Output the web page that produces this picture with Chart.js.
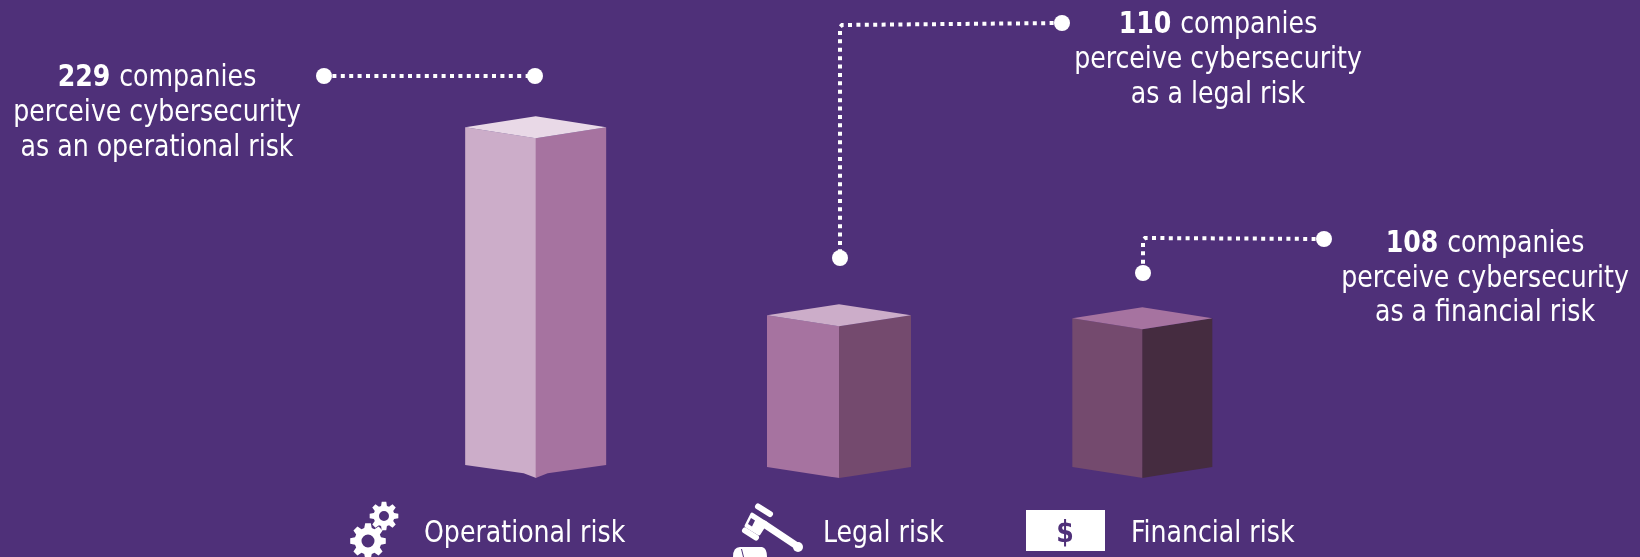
<!DOCTYPE html>
<html>
<head>
  <title>Cybersecurity risk perception</title>
  <script src="https://cdn.jsdelivr.net/npm/chart.js"></script>
  <style>
    html, body { margin: 0; padding: 0; background: #4f3079; overflow: hidden; }
    canvas { display: block; }
  </style>
</head>
<body>
  <canvas id="riskChart" width="1640" height="557"></canvas>

  <script>
    // Chart data
    const categories = ['Operational risk', 'Legal risk', 'Financial risk'];
    const companies = [229, 110, 108];
    const calloutLines = [
      ['companies', 'perceive cybersecurity', 'as an operational risk'],
      ['companies', 'perceive cybersecurity', 'as a legal risk'],
      ['companies', 'perceive cybersecurity', 'as a financial risk']
    ];

    // Face colours of each bar
    const leftColors = ['#ccadc9', '#a673a0', '#744a6e'];
    const rightColors = ['#a673a0', '#744a6e', '#452c40'];
    const topColors = ['#e9d9e7', '#ccadc9', '#a673a0'];

    const WHITE = '#ffffff';
    const PURPLE = '#4f3079';
    const FONT = '"DejaVu Sans Condensed", "DejaVu Sans", sans-serif';
    const TEXT_SQUEEZE = 0.905; // reference font is narrower than DejaVu
    const TOP_DROP = 11;        // apex of the top face to its side corners
    const halfWidths = [70.5, 72, 70];
    const bottomDrops = [13, 11, 11];
    const bottomNotch = [2.5, 0, 0];

    // Callout layout: text centre, text baselines, and the leader path
    const callouts = [
      { cx: 157, ys: [86, 121, 156], path: [[324, 76], [535, 76]] },
      { cx: 1218, ys: [33, 68, 103], path: [[1062, 23], [842, 25], [840, 27], [840, 258]] },
      { cx: 1485, ys: [252, 287, 321], path: [[1324, 239], [1145, 238], [1143, 240], [1143, 273]] }
    ];
    const labelX = [424, 823, 1131];
    const labelY = 542;

    function poly(ctx, pts, color) {
      ctx.fillStyle = color;
      ctx.beginPath();
      pts.forEach((p, i) => i ? ctx.lineTo(p[0], p[1]) : ctx.moveTo(p[0], p[1]));
      ctx.closePath();
      ctx.fill();
    }

    function drawBar(ctx, bar, i) {
      const half = halfWidths[i];
      const l = bar.x - half, r = bar.x + half, x = bar.x;
      const top = bar.y, base = bar.base;
      const corner = base - bottomDrops[i];
      // lower edge dips slightly before the apex on the tall bar
      const nearY = base - bottomDrops[i] * 12 / half - bottomNotch[i];
      poly(ctx, [[l, top + TOP_DROP], [x + 0.5, top + TOP_DROP * 2], [x + 0.5, base],
                 [x - 12, nearY], [l, corner]], leftColors[i]);
      poly(ctx, [[x, top + TOP_DROP * 2], [r, top + TOP_DROP], [r, corner],
                 [x + 12, nearY], [x, base]], rightColors[i]);
      poly(ctx, [[l, top + TOP_DROP], [x, top], [r, top + TOP_DROP], [x, top + TOP_DROP * 2]], topColors[i]);
    }

    function drawLeader(ctx, path) {
      ctx.save();
      ctx.strokeStyle = WHITE;
      ctx.lineWidth = 4;
      ctx.setLineDash([4, 4.4]);
      ctx.beginPath();
      path.forEach((p, i) => i ? ctx.lineTo(p[0], p[1]) : ctx.moveTo(p[0], p[1]));
      ctx.stroke();
      ctx.restore();
      ctx.fillStyle = WHITE;
      [path[0], path[path.length - 1]].forEach(p => {
        ctx.beginPath();
        ctx.arc(p[0], p[1], 8, 0, Math.PI * 2);
        ctx.fill();
      });
    }

    // Text is squeezed horizontally around x
    function squeezedText(ctx, text, x, y) {
      ctx.save();
      ctx.translate(x, y);
      ctx.scale(TEXT_SQUEEZE, 1);
      ctx.fillText(text, 0, 0);
      ctx.restore();
    }

    function drawCallout(ctx, c, value, lines) {
      const bold = 'bold 31px ' + FONT;
      const normal = '31px ' + FONT;
      ctx.fillStyle = WHITE;
      ctx.textBaseline = 'alphabetic';
      ctx.textAlign = 'left';
      const num = String(value);
      ctx.font = bold;
      const numW = ctx.measureText(num + ' ').width * TEXT_SQUEEZE;
      ctx.font = normal;
      const restW = ctx.measureText(lines[0]).width * TEXT_SQUEEZE;
      const start = c.cx - (numW + restW) / 2;
      ctx.font = bold;
      squeezedText(ctx, num, start, c.ys[0]);
      ctx.font = normal;
      squeezedText(ctx, lines[0], start + numW, c.ys[0]);
      ctx.textAlign = 'center';
      squeezedText(ctx, lines[1], c.cx, c.ys[1]);
      squeezedText(ctx, lines[2], c.cx, c.ys[2]);
    }

    function gear(ctx, cx, cy, outer, inner, hole, teeth) {
      ctx.beginPath();
      const step = Math.PI * 2 / teeth;
      for (let i = 0; i < teeth; i++) {
        const a = i * step;
        const pts = [
          [inner, a - step * 0.36], [outer, a - step * 0.2],
          [outer, a + step * 0.2], [inner, a + step * 0.36]
        ];
        pts.forEach((p, j) => {
          const px = cx + p[0] * Math.cos(p[1]);
          const py = cy + p[0] * Math.sin(p[1]);
          (i === 0 && j === 0) ? ctx.moveTo(px, py) : ctx.lineTo(px, py);
        });
      }
      ctx.closePath();
      ctx.moveTo(cx + hole, cy);
      ctx.arc(cx, cy, hole, 0, Math.PI * 2);
      ctx.fillStyle = WHITE;
      ctx.fill('evenodd');
    }

    function drawGavel(ctx) {
      ctx.save();
      ctx.strokeStyle = WHITE;
      ctx.lineCap = 'round';
      ctx.lineJoin = 'round';
      // handle
      ctx.lineWidth = 7;
      ctx.beginPath();
      ctx.moveTo(764, 524);
      ctx.lineTo(797, 546);
      ctx.stroke();
      ctx.fillStyle = WHITE;
      ctx.beginPath();
      ctx.arc(798, 547, 5, 0, Math.PI * 2);
      ctx.fill();
      // strips either side of the head
      ctx.lineWidth = 6;
      ctx.beginPath();
      ctx.moveTo(758, 506.5);
      ctx.lineTo(770, 514);
      ctx.moveTo(745, 530.5);
      ctx.lineTo(756, 537.5);
      ctx.stroke();
      // head with its slit
      ctx.lineWidth = 3;
      const head = [[752, 514], [766, 523], [759, 534], [746, 526]];
      poly(ctx, head, WHITE);
      ctx.beginPath();
      head.forEach((p, i) => i ? ctx.lineTo(p[0], p[1]) : ctx.moveTo(p[0], p[1]));
      ctx.closePath();
      ctx.stroke();
      poly(ctx, [[751, 518], [755, 520.5], [752, 526.5], [748, 524]], PURPLE);
      // block
      ctx.fillStyle = WHITE;
      ctx.beginPath();
      ctx.moveTo(733, 557);
      ctx.quadraticCurveTo(733, 547, 740, 547);
      ctx.lineTo(762, 547);
      ctx.quadraticCurveTo(767, 548, 767, 557);
      ctx.closePath();
      ctx.fill();
      poly(ctx, [[741, 549], [742, 549], [744, 557], [743, 557]], PURPLE);
      ctx.restore();
    }

    function drawDollar(ctx) {
      ctx.fillStyle = WHITE;
      ctx.fillRect(1026, 510, 79, 41);
      ctx.fillStyle = PURPLE;
      ctx.font = 'bold 31px ' + FONT;
      ctx.textAlign = 'center';
      ctx.textBaseline = 'alphabetic';
      squeezedText(ctx, '$', 1065, 542);
    }

    // Bars are painted as 3D columns from the positions the scales give them
    const columns = {
      id: 'columns',
      beforeDatasetsDraw(chart) {
        const ctx = chart.ctx;
        ctx.save();
        chart.getDatasetMeta(0).data.forEach((bar, i) => drawBar(ctx, bar, i));
        ctx.restore();
        return false;
      },
      afterDraw(chart) {
        const ctx = chart.ctx;
        ctx.save();
        callouts.forEach((c, i) => {
          drawLeader(ctx, c.path);
          drawCallout(ctx, c, companies[i], calloutLines[i]);
        });
        gear(ctx, 368, 541, 18, 13.5, 6.5, 8);
        gear(ctx, 384, 516, 14.5, 10.5, 5, 8);
        drawGavel(ctx);
        drawDollar(ctx);
        ctx.fillStyle = WHITE;
        ctx.font = '31px ' + FONT;
        ctx.textAlign = 'left';
        ctx.textBaseline = 'alphabetic';
        categories.forEach((label, i) => squeezedText(ctx, label, labelX[i], labelY));
        ctx.restore();
      }
    };

    new Chart(document.getElementById('riskChart').getContext('2d'), {
      type: 'bar',
      data: {
        labels: categories,
        datasets: [{
          label: 'Companies',
          data: companies,
          backgroundColor: leftColors,
          barThickness: 142
        }]
      },
      options: {
        responsive: false,
        animation: false,
        layout: { padding: { left: 384, right: 346, top: 83, bottom: 79 } },
        plugins: { legend: { display: false }, tooltip: { enabled: false } },
        scales: {
          x: { display: false },
          y: { display: false, min: 0, max: 250 }
        }
      },
      plugins: [columns]
    });
  </script>
</body>
</html>
